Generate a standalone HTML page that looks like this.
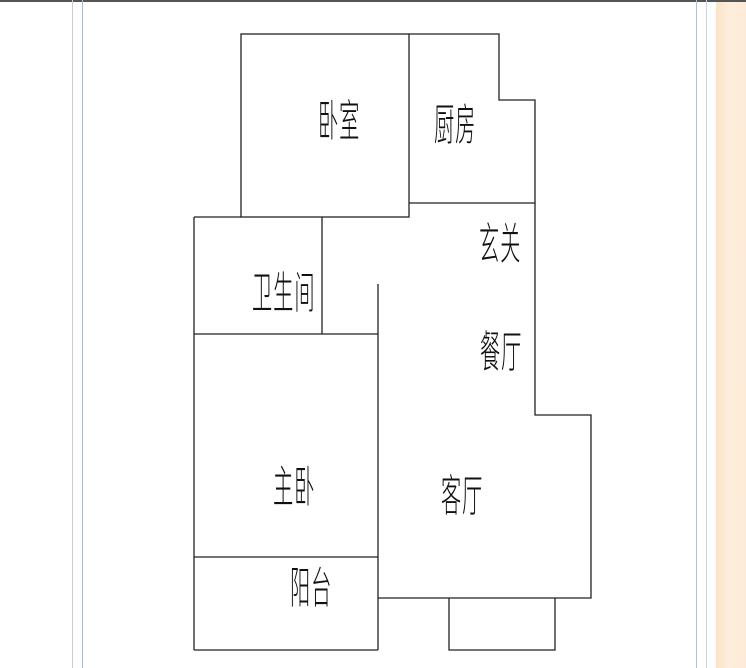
<!DOCTYPE html>
<html><head><meta charset="utf-8"><style>
html,body{margin:0;padding:0;width:746px;height:668px;overflow:hidden;background:#fff}
.t{position:absolute;font-family:"Liberation Sans","Noto Sans CJK SC",sans-serif;font-size:44px;line-height:46px;transform:scaleX(0.46);transform-origin:0 0;color:#111;font-weight:300;white-space:nowrap;letter-spacing:2px}
</style></head><body>
<div style="position:absolute;left:0;top:0;width:746px;height:2px;background:#555"></div>
<div style="position:absolute;left:72px;top:0;width:1px;height:668px;background:#ccc"></div>
<div style="position:absolute;left:82px;top:0;width:1px;height:668px;background:#a9bccc"></div>
<div style="position:absolute;left:696px;top:0;width:1px;height:668px;background:#b5c2cc"></div>
<div style="position:absolute;left:706px;top:0;width:1px;height:668px;background:#c8d4de"></div>
<div style="position:absolute;left:716px;top:2px;width:30px;height:666px;background:linear-gradient(90deg,#fbe3c4,#fdeedd 40%,#fdebd8)"></div>
<svg style="position:absolute;left:0;top:0" width="746" height="668">
<g fill="none" stroke="#222" stroke-width="1.3">
<rect x="241" y="34" width="168" height="183"/>
<polyline points="409,34 499,34 499,100 535,100 535,203 409,203"/>
<polyline points="535,203 535,415 591,415 591,598 378,598"/>
<line x1="194" y1="217" x2="241" y2="217"/>
<line x1="194" y1="217" x2="194" y2="650"/>
<line x1="322" y1="217" x2="322" y2="334"/>
<line x1="194" y1="334" x2="378" y2="334"/>
<line x1="378" y1="284" x2="378" y2="650"/>
<line x1="194" y1="557" x2="378" y2="557"/>
<line x1="194" y1="650" x2="378" y2="650"/>
<polyline points="449,598 449,650 555,650 555,598"/>
</g></svg>
<div class="t" style="left:318px;top:99px">卧室</div>
<div class="t" style="left:434px;top:103px">厨房</div>
<div class="t" style="left:479px;top:222px">玄关</div>
<div class="t" style="left:252px;top:271px">卫生间</div>
<div class="t" style="left:480px;top:330px">餐厅</div>
<div class="t" style="left:273px;top:465px">主卧</div>
<div class="t" style="left:441px;top:474px">客厅</div>
<div class="t" style="left:290px;top:566px">阳台</div>
</body></html>
